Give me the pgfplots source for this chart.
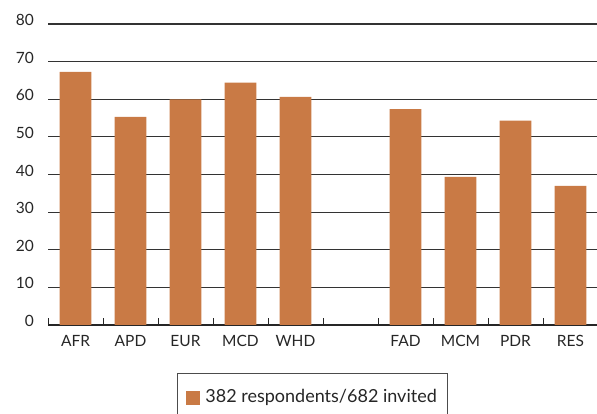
\documentclass[border=0pt]{standalone}
\usepackage{fontspec}
\setmainfont{Lato}
\usepackage{pgfplots}
\pgfplotsset{compat=1.18}
\definecolor{barc}{RGB}{201,122,69}
\begin{document}
\fontsize{15}{18}\selectfont
\begin{tikzpicture}
\begin{axis}[at={(0pt,0pt)}, anchor=south west, scale only axis,
  width=550pt, height=301pt,
  xmin=-0.5, xmax=9.5, ymin=0, ymax=80,
  ytick={0,10,...,80},
  xtick={0,1,2,3,4,6,7,8,9},
  xticklabels={AFR,APD,EUR,MCD,WHD,FAD,MCM,PDR,RES},
  minor xtick={-0.5,0.5,...,8.5},
  ymajorgrids, grid style={draw=black!80, line width=1.1pt},
  axis x line*=bottom, axis y line*=left,
  y axis line style={draw=none},
  x axis line style={draw=black!85, line width=1.2pt},
  major tick style={draw=none},
  minor x tick style={draw=black!85, line width=1pt},
  minor tick length=7pt, tick align=inside,
  /pgf/number format/assume math mode=true,
  yticklabel style={xshift=-9pt, yshift=4pt, text=black!85},
  xticklabel style={yshift=-5pt, text=black!85},
  tick label style={font=\fontsize{15.5}{18}\selectfont},
  legend style={at={(0.2345,-0.1595)}, anchor=north west, draw=black!70, line width=1pt,
    inner xsep=9pt, inner ysep=14pt, column sep=3pt, font=\fontsize{18}{21}\selectfont, text=black!85},
  legend image code/.code={\fill[barc,draw=none] (0pt,-8pt) rectangle (14pt,6pt);},
]
\addplot[ybar, bar width=0.58, fill=barc, draw=none] coordinates {
(0,67.3) (1,55.3) (2,60.0) (3,64.4) (4,60.6) (6,57.4) (7,39.4) (8,54.3) (9,37.0)};
\addlegendentry{382 respondents/682 invited}
\end{axis}
\pgfresetboundingbox
\path (-48pt,-89pt) rectangle (549pt,325pt);
\end{tikzpicture}
\end{document}
